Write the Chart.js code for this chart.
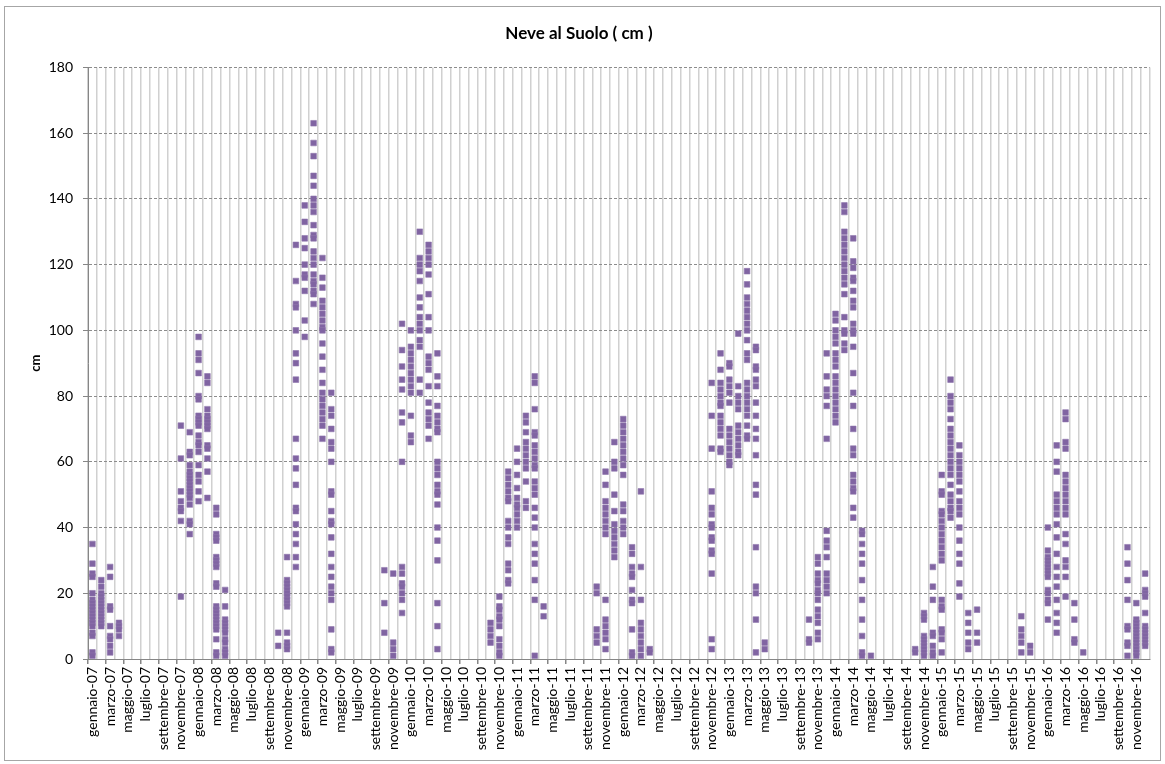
<!DOCTYPE html>
<html>
<head>
<meta charset="utf-8">
<script src="https://cdn.jsdelivr.net/npm/chart.js@4"></script>
<style>
  body { margin: 0; background: #fff; }
  #box { position: relative; width: 1165px; height: 764px; }
  #frame { position: absolute; left: 4px; top: 6px; width: 1155px; height: 753px; border: 1px solid #a6a6a6; pointer-events: none; }
</style>
</head>
<body>
<div id="box">
  <canvas id="neveChart" width="1165" height="764"></canvas>
  <div id="frame"></div>
</div>
<script>
// month names and years for the category axis (one category per month)
const mesi = ['gennaio', 'febbraio', 'marzo', 'aprile', 'maggio', 'giugno', 'luglio', 'agosto', 'settembre', 'ottobre', 'novembre', 'dicembre'];
const anni = ['07', '08', '09', '10', '11', '12', '13', '14', '15', '16'];
const labels = anni.flatMap(a => mesi.map(m => m + '-' + a));

// y axis
const yMin = 0;
const yMax = 180;
const yStep = 20;

// snow depth readings (cm), grouped by winter: [month, values in that month]
const inverno0607 = [
    ['gennaio-07', [35, 29, 26, 25, 20, 18, 17, 16, 15, 14, 13, 12, 11, 10, 8, 7, 2, 1]],
    ['febbraio-07', [24, 22, 20, 19, 18, 17, 16, 15, 14, 13, 12, 11, 10]],
    ['marzo-07', [28, 25, 16, 15, 10, 7, 6, 4, 2]],
    ['aprile-07', [11, 10, 9, 7]]
];
const inverno0708 = [
    ['novembre-07', [71, 61, 51, 48, 46, 45, 42, 19]],
    ['dicembre-07', [69, 63, 62, 59, 57, 56, 55, 54, 53, 52, 51, 50, 49, 47, 42, 41, 38]],
    ['gennaio-08', [98, 93, 91, 87, 80, 79, 74, 73, 72, 71, 68, 66, 65, 63, 59, 56, 54, 51, 48]],
    ['febbraio-08', [86, 84, 76, 74, 73, 72, 71, 70, 65, 64, 61, 57, 49]],
    ['marzo-08', [46, 44, 38, 37, 36, 31, 30, 29, 28, 23, 22, 16, 15, 14, 13, 12, 11, 10, 9, 6, 2, 1]],
    ['aprile-08', [21, 16, 12, 11, 10, 9, 8, 6, 5, 3, 2, 1]]
];
const inverno0809 = [
    ['ottobre-08', [8, 4]],
    ['novembre-08', [31, 24, 23, 22, 21, 20, 19, 18, 17, 16, 8, 5, 4, 3]],
    ['dicembre-08', [126, 115, 108, 107, 100, 93, 90, 85, 67, 61, 58, 53, 46, 45, 41, 38, 35, 31, 28]],
    ['gennaio-09', [138, 133, 128, 125, 120, 117, 116, 112, 103, 98]],
    ['febbraio-09', [163, 157, 153, 147, 144, 140, 138, 136, 132, 129, 128, 124, 122, 120, 117, 115, 114, 112, 111, 108]],
    ['marzo-09', [122, 116, 113, 109, 107, 105, 103, 101, 100, 96, 92, 88, 84, 81, 79, 77, 75, 73, 71, 67]],
    ['aprile-09', [81, 76, 74, 70, 66, 64, 60, 51, 50, 45, 42, 41, 37, 32, 28, 25, 22, 20, 18, 9, 3, 2]]
];
const inverno0910 = [
    ['ottobre-09', [27, 17, 8]],
    ['novembre-09', [26, 5, 3, 1]],
    ['dicembre-09', [102, 94, 89, 85, 82, 75, 72, 60, 28, 26, 23, 22, 20, 18, 14]],
    ['gennaio-10', [100, 95, 93, 91, 89, 87, 85, 83, 81, 74, 68, 66]],
    ['febbraio-10', [130, 122, 120, 118, 115, 110, 107, 104, 102, 100, 97, 95, 85, 81]],
    ['marzo-10', [126, 124, 122, 120, 117, 111, 104, 100, 92, 90, 88, 83, 78, 75, 73, 71, 67]],
    ['aprile-10', [93, 86, 83, 77, 74, 72, 70, 69, 60, 58, 56, 53, 51, 50, 47, 40, 36, 30, 17, 10, 3]]
];
const inverno1011 = [
    ['ottobre-10', [11, 9, 7, 5]],
    ['novembre-10', [19, 16, 15, 13, 12, 10, 6, 4, 2, 1]],
    ['dicembre-10', [57, 55, 53, 51, 49, 48, 42, 40, 37, 35, 29, 27, 24, 23]],
    ['gennaio-11', [64, 60, 56, 52, 49, 47, 46, 44, 42, 40]],
    ['febbraio-11', [74, 72, 69, 66, 64, 62, 60, 58, 54, 48, 46]],
    ['marzo-11', [86, 84, 76, 69, 68, 65, 63, 61, 59, 58, 54, 52, 50, 46, 43, 40, 35, 32, 29, 24, 18, 1]],
    ['aprile-11', [16, 13]]
];
const inverno1112 = [
    ['ottobre-11', [22, 20, 9, 7, 5]],
    ['novembre-11', [57, 53, 48, 46, 44, 42, 40, 38, 18, 12, 10, 8, 6, 3]],
    ['dicembre-11', [66, 60, 58, 50, 45, 41, 39, 37, 35, 33, 31]],
    ['gennaio-12', [73, 71, 69, 67, 65, 63, 61, 59, 56, 47, 45, 42, 40, 38]],
    ['febbraio-12', [34, 32, 28, 26, 25, 21, 18, 17, 9, 2, 1]],
    ['marzo-12', [51, 28, 18, 11, 9, 7, 5, 3, 1]],
    ['aprile-12', [3, 2]]
];
const inverno1213 = [
    ['novembre-12', [84, 74, 64, 51, 46, 44, 41, 40, 37, 36, 33, 32, 26, 6, 3]],
    ['dicembre-12', [93, 88, 84, 82, 80, 78, 77, 74, 72, 70, 68, 64, 63]],
    ['gennaio-13', [90, 89, 85, 83, 81, 78, 70, 68, 66, 64, 62, 60, 59]],
    ['febbraio-13', [99, 83, 80, 78, 76, 71, 69, 67, 65, 63, 62]],
    ['marzo-13', [118, 114, 110, 108, 106, 104, 102, 100, 97, 93, 91, 84, 82, 80, 78, 76, 74, 71, 68, 67]],
    ['aprile-13', [95, 94, 89, 88, 85, 83, 78, 74, 70, 67, 62, 53, 50, 34, 22, 20, 12, 2]],
    ['maggio-13', [5, 3]]
];
const inverno1314 = [
    ['ottobre-13', [12, 6, 5]],
    ['novembre-13', [31, 29, 26, 24, 23, 21, 20, 18, 15, 13, 11, 8, 6]],
    ['dicembre-13', [93, 86, 82, 80, 77, 67, 39, 36, 34, 31, 26, 24, 22, 20]],
    ['gennaio-14', [105, 103, 100, 98, 96, 93, 91, 89, 86, 84, 82, 80, 78, 76, 74, 72]],
    ['febbraio-14', [138, 136, 130, 128, 126, 124, 122, 120, 118, 116, 114, 111, 104, 100, 99, 96, 94]],
    ['marzo-14', [128, 121, 119, 116, 115, 112, 109, 107, 102, 100, 99, 95, 87, 81, 77, 70, 64, 62, 56, 54, 52, 51, 46, 43]],
    ['aprile-14', [39, 38, 35, 32, 29, 24, 18, 12, 7, 2, 1]],
    ['maggio-14', [1]]
];
const inverno1415 = [
    ['ottobre-14', [3, 2]],
    ['novembre-14', [14, 13, 12, 7, 6, 5, 4, 3, 2, 1]],
    ['dicembre-14', [28, 22, 18, 8, 7, 4, 2, 1]],
    ['gennaio-15', [56, 51, 50, 45, 44, 42, 40, 38, 36, 34, 32, 30, 18, 16, 15, 9, 8, 6, 2]],
    ['febbraio-15', [85, 80, 78, 76, 73, 70, 68, 66, 64, 62, 60, 58, 56, 53, 50, 48, 46, 45, 43]],
    ['marzo-15', [65, 62, 60, 58, 56, 54, 51, 48, 46, 44, 40, 36, 32, 29, 23, 19]],
    ['aprile-15', [14, 11, 8, 5, 3]],
    ['maggio-15', [15, 8, 5]]
];
const inverno1516 = [
    ['ottobre-15', [13, 9, 7, 5, 2]],
    ['novembre-15', [4, 2]],
    ['gennaio-16', [40, 33, 31, 30, 29, 28, 27, 26, 25, 21, 20, 18, 17, 12]],
    ['febbraio-16', [65, 60, 57, 50, 48, 46, 44, 41, 37, 32, 28, 25, 22, 18, 14, 11, 8]],
    ['marzo-16', [75, 73, 66, 64, 56, 54, 52, 50, 48, 46, 44, 38, 35, 30, 28, 25, 19]],
    ['aprile-16', [17, 12, 6, 5]],
    ['maggio-16', [2]]
];
const inverno1617 = [
    ['ottobre-16', [34, 29, 24, 18, 10, 9, 5, 4, 1]],
    ['novembre-16', [17, 12, 11, 10, 9, 8, 7, 6, 5, 4, 3, 2, 1]],
    ['dicembre-16', [26, 21, 20, 19, 14, 10, 9, 8, 7, 6, 5, 4]]
];

const inverni = [inverno0607, inverno0708, inverno0809, inverno0910, inverno1011, inverno1112,
                 inverno1213, inverno1314, inverno1415, inverno1516, inverno1617];

// every reading becomes one point placed on its month
const punti = inverni.flat().flatMap(([mese, valori]) => valori.map(v => ({x: mese, y: v})));

const font = 'Lato';

new Chart(document.getElementById('neveChart'), {
    type: 'scatter',
    data: {
        labels: labels,
        datasets: [{
            label: 'Neve al Suolo',
            data: punti,
            pointStyle: 'rect',
            pointRadius: 4,
            pointHoverRadius: 4,
            pointBackgroundColor: '#8064a2',
            pointBorderColor: '#8e75ad',
            pointBorderWidth: 0.6
        }]
    },
    options: {
        responsive: false,
        animation: false,
        layout: { padding: { top: 0, left: 0, right: 7, bottom: 0 } },
        plugins: {
            legend: { display: false },
            tooltip: { enabled: false },
            title: {
                display: true,
                text: 'Neve al Suolo ( cm )',
                color: '#000',
                font: { family: font, size: 17, weight: 'bold' },
                padding: { top: 23, bottom: 24 }
            }
        },
        scales: {
            x: {
                type: 'category',
                offset: true,
                grid: {
                    offset: true,
                    color: '#d0d0d0',
                    lineWidth: 1.5,
                    tickLength: 5,
                    // tick marks only where a label is shown
                    tickColor: ctx => (ctx.index % 2 === 0 ? '#868686' : 'rgba(0,0,0,0)')
                },
                border: { color: '#868686', width: 1 },
                ticks: {
                    autoSkip: false,
                    maxRotation: 90,
                    minRotation: 90,
                    padding: 3,
                    color: '#000',
                    font: { family: font, size: 14 },
                    callback: function (val, i) { return i % 2 === 0 ? this.getLabelForValue(val) : ''; }
                },
                afterFit: s => { s.height = 105; }
            },
            y: {
                min: yMin,
                max: yMax,
                grid: { color: '#8c8c8c', lineWidth: 1, tickLength: 5, tickColor: '#868686' },
                border: { color: '#868686', width: 1, dash: [3, 2] },
                ticks: {
                    stepSize: yStep,
                    padding: 10,
                    color: '#000',
                    font: { family: font, size: 14 }
                },
                title: {
                    display: true,
                    text: 'cm',
                    color: '#000',
                    font: { family: font, size: 13, weight: 'bold' },
                    padding: { top: 28, bottom: 0 }
                },
                afterFit: s => { s.width = 88; }
            }
        }
    }
});
</script>
</body>
</html>
